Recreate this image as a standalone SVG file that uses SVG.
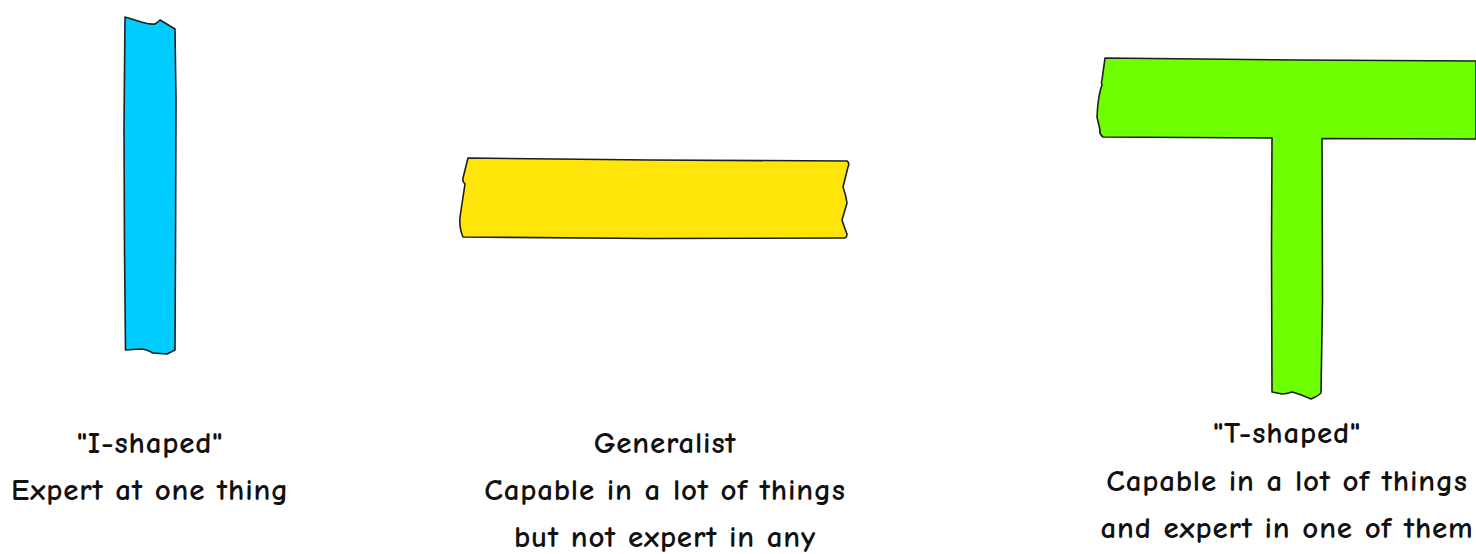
<svg xmlns="http://www.w3.org/2000/svg" width="1476" height="554" viewBox="0 0 1476 554">
<style>
.shape{stroke:#1e1e1e;stroke-width:1.6;stroke-linejoin:round}
.lbl{font-family:"Comic Neue","Liberation Sans",sans-serif;font-size:31px;font-weight:700;letter-spacing:0.8px;fill:#111;text-anchor:middle}
</style>
<rect width="1476" height="554" fill="#fff"/>
<g id="i-shaped">
<path class="shape" fill="#00CCFF" d="M125,17 L143,22.5 Q150,24.5 155,24 Q158,22 160,20 L175,29 L176,100 L175.5,250 L175,350 Q171,352 167,354 L153,353 Q146,349 140,349 L125.5,350 L124.5,250 L124,127 L125,17 Z"/>
<text class="lbl" x="150" y="453">"I-shaped"</text>
<text class="lbl" x="150" y="500">Expert at one thing</text>
</g>
<g id="generalist">
<path class="shape" fill="#FFE50A" d="M468,158 L650,160 L847,161 Q850,163 848,167 L843,187 Q846,195 847,203 L842,220 Q845,229 847,234 Q847,238 844,238 L650,238.5 L463,237 Q459,228 460,217 L465,184 Q462,181 463,178 L468,158 Z"/>
<text class="lbl" x="665" y="453">Generalist</text>
<text class="lbl" x="665" y="500">Capable in a lot of things</text>
<text class="lbl" x="665" y="547">but not expert in any</text>
</g>
<g id="t-shaped">
<path class="shape" fill="#6EFF00" d="M1105,58 L1300,60 L1476,61 L1476,139 L1322,138.5 L1322.5,300 L1321,393 Q1318,396 1311,399 Q1300,394 1292,392 Q1286,394 1282,394 L1272,392 L1271.5,250 L1272,138 L1103,137 Q1099,134 1100,130 L1097,117 Q1098,95 1102,85 Q1101,82 1102,80 L1105,58 Z"/>
<text class="lbl" x="1287" y="443">"T-shaped"</text>
<text class="lbl" x="1287" y="491">Capable in a lot of things</text>
<text class="lbl" x="1287" y="538">and expert in one of them</text>
</g>
<g id="connectors"></g>
</svg>
